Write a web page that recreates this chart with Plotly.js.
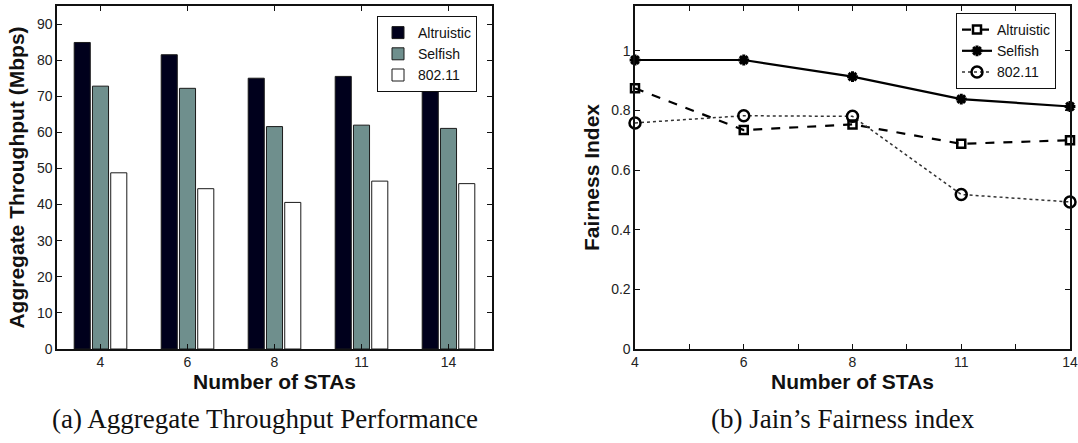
<!DOCTYPE html>
<html>
<head>
<meta charset="utf-8">
<script src="https://cdn.plot.ly/plotly-3.0.1.min.js"></script>
<style>html,body{margin:0;padding:0;background:#fff;}#chart{width:1078px;height:443px;}</style>
</head>
<body>
<div id="chart"></div>
<script>
// ---- data ----
const staLabels = ["4", "6", "8", "11", "14"];
const staIndex = [1, 2, 3, 4, 5];

const thrAltruistic = [84.9, 81.5, 75.0, 75.5, 71.6];
const thrSelfish = [72.8, 72.2, 61.6, 62.0, 61.1];
const thr80211 = [48.8, 44.4, 40.6, 46.5, 45.8];

const fairAltruistic = [0.874, 0.734, 0.753, 0.688, 0.700];
const fairSelfish = [0.969, 0.969, 0.913, 0.838, 0.813];
const fair80211 = [0.758, 0.782, 0.780, 0.518, 0.493];

const thrTicks = [0, 10, 20, 30, 40, 50, 60, 70, 80, 90];
const fairTicks = [0, 0.2, 0.4, 0.6, 0.8, 1];
const fairTickText = ["0", "0.2", "0.4", "0.6", "0.8", "1"];
const fairXTicks = [1, 1.5, 2, 2.5, 3, 3.5, 4, 4.5, 5];
const fairXTickText = ["4", "", "6", "", "8", "", "11", "", "14"];

const W = 1078, H = 443;
const px = v => v / W;
const py = v => (H - v) / H;

const tickFont = {family: "Liberation Sans, Arial, sans-serif", size: 14, color: "#222"};
const titleFont = {family: "Liberation Sans, Arial, sans-serif", size: 21, color: "#111", weight: 700};

const barLine = {color: "#1a1a1a", width: 1};
const traces = [
  {type: "bar", name: "Altruistic", x: staLabels, y: thrAltruistic, xaxis: "x", yaxis: "y",
   marker: {color: "#00001c", line: barLine}, legend: "legend"},
  {type: "bar", name: "Selfish", x: staLabels, y: thrSelfish, xaxis: "x", yaxis: "y",
   marker: {color: "#6f8f8d", line: barLine}, legend: "legend"},
  {type: "bar", name: "802.11", x: staLabels, y: thr80211, xaxis: "x", yaxis: "y",
   marker: {color: "#ffffff", line: barLine}, legend: "legend"},

  {type: "scatter", mode: "lines+markers", name: "Altruistic", x: staIndex, y: fairAltruistic,
   xaxis: "x2", yaxis: "y2", cliponaxis: false, legend: "legend2",
   line: {color: "#000", width: 2.2, dash: "dash"},
   marker: {symbol: "square-open", size: 8, color: "#000", line: {color: "#000", width: 2.5}}},
  {type: "scatter", mode: "lines+markers", name: "Selfish", x: staIndex, y: fairSelfish,
   xaxis: "x2", yaxis: "y2", cliponaxis: false, legend: "legend2",
   line: {color: "#000", width: 2.2},
   marker: {symbol: "asterisk-open", size: 9, color: "#000", line: {color: "#000", width: 3}}},
  {type: "scatter", mode: "lines+markers", name: "802.11", x: staIndex, y: fair80211,
   xaxis: "x2", yaxis: "y2", cliponaxis: false, legend: "legend2",
   line: {color: "#333", width: 1.5, dash: "dot"},
   marker: {symbol: "circle-open", size: 11, color: "#000", line: {color: "#000", width: 2.5}}}
];

const axisCommon = {
  showline: true, linecolor: "#111", linewidth: 1.6, mirror: "ticks",
  ticks: "inside", ticklen: 5, tickcolor: "#111", tickwidth: 1,
  showgrid: false, zeroline: false, tickfont: tickFont
};

const legendFont = {family: "Liberation Sans, Arial, sans-serif", size: 14, color: "#111"};

const layout = {
  width: W, height: H,
  margin: {l: 0, r: 0, t: 0, b: 0},
  paper_bgcolor: "#fff", plot_bgcolor: "#fff",
  barmode: "group", bargap: 0.37, bargroupgap: 0.12,
  showlegend: true,
  xaxis: Object.assign({}, axisCommon, {
    domain: [px(57), px(492)], anchor: "y", type: "category", range: [-0.5, 4.5],
    title: {text: "Number of STAs", font: titleFont, standoff: 0}
  }),
  yaxis: Object.assign({}, axisCommon, {
    domain: [py(349), py(6)], anchor: "x", range: [0, 95], tickvals: thrTicks,
    title: {text: "Aggregate Throughput (Mbps)", font: titleFont, standoff: 6}
  }),
  xaxis2: Object.assign({}, axisCommon, {
    domain: [px(635), px(1070)], anchor: "y2", range: [1, 5],
    tickvals: fairXTicks, ticktext: fairXTickText,
    title: {text: "Number of STAs", font: titleFont, standoff: 0}
  }),
  yaxis2: Object.assign({}, axisCommon, {
    domain: [py(349), py(6)], anchor: "x2", range: [0, 1.15],
    tickvals: fairTicks, ticktext: fairTickText,
    title: {text: "Fairness Index", font: titleFont, standoff: 6}
  }),
  legend: {
    x: px(377), y: py(16), xanchor: "left", yanchor: "top",
    bgcolor: "#fff", bordercolor: "#111", borderwidth: 1,
    font: legendFont, tracegroupgap: 0, itemwidth: 30
  },
  legend2: {
    x: px(956), y: py(13), xanchor: "left", yanchor: "top",
    bgcolor: "#fff", bordercolor: "#111", borderwidth: 1,
    font: legendFont, tracegroupgap: 0
  },
  annotations: [
    {text: "(a) Aggregate Throughput Performance", x: px(265), y: py(419), xref: "paper", yref: "paper",
     showarrow: false, xanchor: "center", yanchor: "middle",
     font: {family: "Liberation Serif, serif", size: 27, color: "#111"}},
    {text: "(b) Jain\u2019s Fairness index", x: px(843), y: py(419), xref: "paper", yref: "paper",
     showarrow: false, xanchor: "center", yanchor: "middle",
     font: {family: "Liberation Serif, serif", size: 27, color: "#111"}}
  ]
};

Plotly.newPlot("chart", traces, layout, {staticPlot: true, displayModeBar: false});
</script>
</body>
</html>
